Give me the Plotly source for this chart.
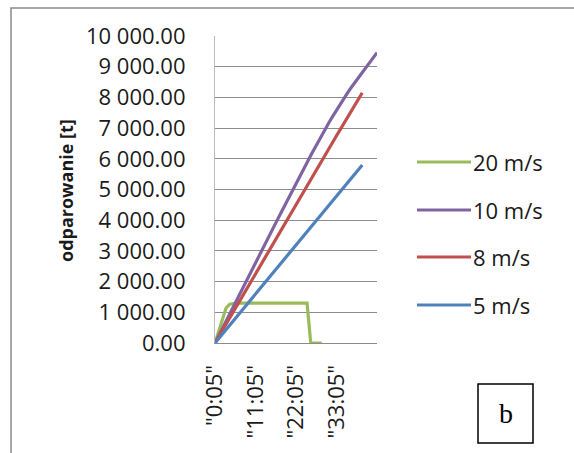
import plotly.graph_objects as go

# Time stamps (one per minute), shown as quoted strings on the category axis
time_labels = [
    '"0:05"', '"1:05"', '"2:05"', '"3:05"', '"4:05"', '"5:05"', '"6:05"', '"7:05"',
    '"8:05"', '"9:05"', '"10:05"', '"11:05"', '"12:05"', '"13:05"', '"14:05"',
    '"15:05"', '"16:05"', '"17:05"', '"18:05"', '"19:05"', '"20:05"', '"21:05"',
    '"22:05"', '"23:05"', '"24:05"', '"25:05"', '"26:05"', '"27:05"', '"28:05"',
    '"29:05"', '"30:05"', '"31:05"', '"32:05"', '"33:05"', '"34:05"', '"35:05"',
    '"36:05"', '"37:05"', '"38:05"', '"39:05"', '"40:05"', '"41:05"', '"42:05"',
    '"43:05"', '"44:05"',
]
tick_labels = ['"0:05"', '"11:05"', '"22:05"', '"33:05"']

# Cumulative evaporation [t] for each wind speed
evap_20 = [0, 400, 790, 1140, 1265, 1295, 1300, 1300, 1300, 1300, 1300, 1300, 1300,
           1300, 1300, 1300, 1300, 1300, 1300, 1300, 1300, 1300, 1300, 1300, 1300,
           1300, 0, 0, 0, 0]
evap_10 = [0, 240, 478, 717, 957, 1193, 1430, 1668, 1902, 2140, 2377, 2612, 2850,
           3084, 3322, 3556, 3790, 4027, 4260, 4497, 4730, 4962, 5190, 5422, 5650,
           5878, 6106, 6330, 6556, 6778, 6990, 7192, 7388, 7586, 7780, 7968, 8150,
           8322, 8490, 8662, 8828, 8992, 9150, 9312, 9460]
evap_8 = [0, 206, 410, 617, 820, 1026, 1232, 1436, 1640, 1846, 2050, 2256, 2460,
          2664, 2870, 3076, 3280, 3486, 3690, 3896, 4100, 4304, 4510, 4716, 4920,
          5124, 5330, 5536, 5740, 5944, 6150, 6350, 6548, 6752, 6950, 7150, 7352,
          7550, 7750, 7952, 8150]
evap_5 = [0, 145, 290, 436, 580, 724, 870, 1016, 1160, 1305, 1450, 1596, 1740,
          1884, 2030, 2176, 2320, 2466, 2610, 2754, 2900, 3046, 3190, 3334, 3480,
          3626, 3770, 3914, 4060, 4206, 4350, 4494, 4640, 4786, 4930, 5074, 5220,
          5366, 5510, 5654, 5800]

series_names = ["20 m/s", "10 m/s", "8 m/s", "5 m/s"]
series_values = [evap_20, evap_10, evap_8, evap_5]
series_colors = ["#9BBB59", "#8064A2", "#C0504D", "#4F81BD"]

FONT = "Open Sans"
W, H = 574, 453
L, R, T, B = 215, 197, 36, 110
plot_w = W - L - R
plot_h = H - T - B


def px_x(px):
    return (px - L) / plot_w


def px_y(py):
    return (H - B - py) / plot_h


fig = go.Figure()
for name, vals, col in zip(series_names, series_values, series_colors):
    fig.add_trace(go.Scatter(
        x=time_labels[:len(vals)], y=vals, mode="lines", name=name,
        line=dict(color=col, width=3.2), showlegend=False,
    ))

shapes = []
annotations = []

# Legend drawn at the right of the plot
legend_y = [162, 210, 257, 305]
for name, col, ly in zip(series_names, series_colors, legend_y):
    shapes.append(dict(type="line", xref="paper", yref="paper",
                       x0=px_x(417), x1=px_x(471), y0=px_y(ly), y1=px_y(ly),
                       line=dict(color=col, width=3.2)))
    annotations.append(dict(xref="paper", yref="paper", x=px_x(471), y=px_y(ly),
                            text=name, showarrow=False, xanchor="left",
                            yanchor="middle", font=dict(family=FONT, size=22,
                                                        color="#1a1a1a")))

# Y axis title
annotations.append(dict(xref="paper", yref="paper", x=px_x(66), y=px_y(191),
                        text="<b>odparowanie [t]</b>", textangle=-90,
                        showarrow=False, xanchor="center", yanchor="middle",
                        font=dict(family=FONT, size=18, color="#1a1a1a")))

# Outer chart border
shapes.append(dict(type="rect", xref="paper", yref="paper",
                   x0=px_x(11), x1=px_x(590), y0=px_y(470), y1=px_y(8),
                   line=dict(color="#8a8a8a", width=1.5), layer="below"))

# Panel label box
shapes.append(dict(type="rect", xref="paper", yref="paper",
                   x0=px_x(478), x1=px_x(533), y0=px_y(443), y1=px_y(384),
                   line=dict(color="black", width=1.5)))
annotations.append(dict(xref="paper", yref="paper", x=px_x(505.5), y=px_y(413),
                        text="b", showarrow=False, xanchor="center",
                        yanchor="middle",
                        font=dict(family="Liberation Serif", size=28,
                                  color="black")))

fig.update_layout(
    width=W, height=H,
    margin=dict(l=L, r=R, t=T, b=B, pad=0),
    paper_bgcolor="white", plot_bgcolor="white",
    separators=". ",
    font=dict(family=FONT, size=22, color="#1a1a1a"),
    shapes=shapes, annotations=annotations,
    showlegend=False,
)
fig.update_xaxes(
    type="category", categoryorder="array", categoryarray=time_labels,
    range=[0, 44], tickmode="array", tickvals=tick_labels, ticktext=tick_labels,
    tickangle=-90, ticks="", ticklabelstandoff=12,
    showline=True, linecolor="#8a8a8a", linewidth=1.2,
    showgrid=False, zeroline=False,
    tickfont=dict(family=FONT, size=22, color="#1a1a1a"),
)
fig.update_yaxes(
    range=[0, 10000], dtick=1000, tickformat=",.2f",
    showgrid=True, gridcolor="#8c8c8c", gridwidth=1,
    showline=True, linecolor="#bdbdbd", linewidth=1.2,
    zeroline=False, ticks="", ticklabelstandoff=24,
    tickfont=dict(family=FONT, size=22, color="#1a1a1a"),
)

fig.write_html("out.html")
